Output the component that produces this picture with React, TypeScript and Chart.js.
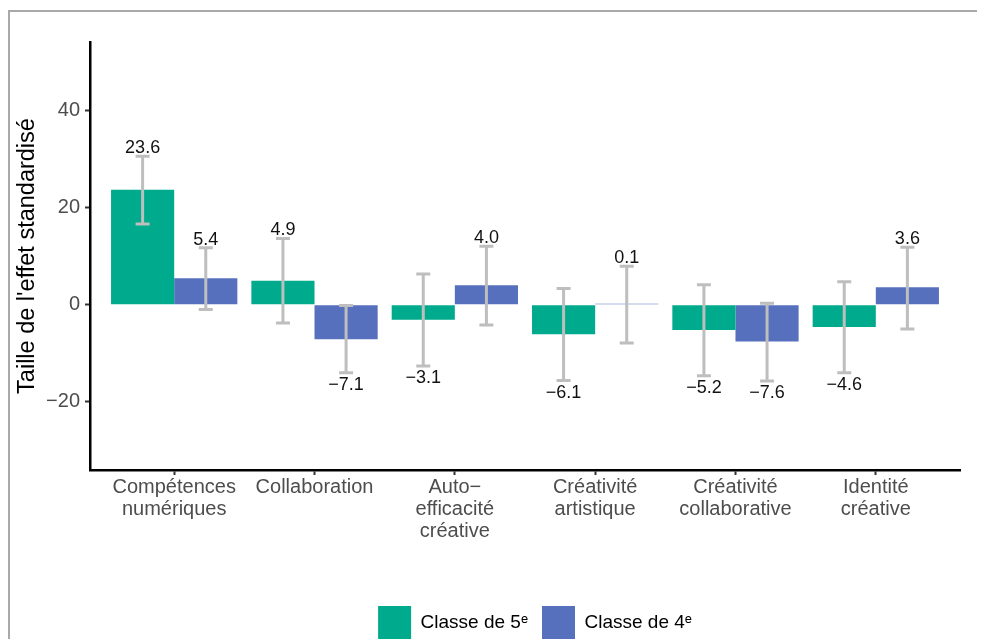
import React, { useEffect, useRef } from 'react';
import { Chart, registerables } from 'chart.js';

Chart.register(...registerables);

// ---- data ----
const categories: string[][] = [
  ['Compétences', 'numériques'],
  ['Collaboration'],
  ['Auto−', 'efficacité', 'créative'],
  ['Créativité', 'artistique'],
  ['Créativité', 'collaborative'],
  ['Identité', 'créative'],
];
const seriesNames = ['Classe de 5ᵉ', 'Classe de 4ᵉ'];
const values5 = [23.6, 4.9, -3.1, -6.1, -5.2, -4.6];
const values4 = [5.4, -7.1, 4.0, 0.1, -7.6, 3.6];
const errLow5 = [16.6, -3.8, -12.6, -15.6, -14.6, -14.0];
const errHigh5 = [30.5, 13.6, 6.3, 3.3, 4.1, 4.7];
const errLow4 = [-1.0, -14.0, -4.2, -7.9, -15.7, -5.0];
const errHigh4 = [11.7, -0.2, 12.0, 7.9, 0.3, 11.8];
const yTicks = [-20, 0, 20, 40];
const yMin = -34;
const yMax = 54;
const yTitle = "Taille de l'effet standardisé";
const colors = ['#00AA8C', '#5670BE'];

const FONT = "'Liberation Sans', Arial, sans-serif";
const fmt = (v: number) => (v < 0 ? '−' + Math.abs(v).toFixed(1) : v.toFixed(1));

const errorBarPlugin = {
  id: 'errorBars',
  afterDatasetsDraw(chart: any) {
    const { ctx } = chart;
    const ys = chart.scales.y;
    const lows = [errLow5, errLow4];
    const highs = [errHigh5, errHigh4];
    const vals = [values5, values4];
    ctx.save();
    chart.data.datasets.forEach((_ds: any, d: number) => {
      const meta = chart.getDatasetMeta(d);
      meta.data.forEach((bar: any, i: number) => {
        const x = bar.x;
        const yl = ys.getPixelForValue(lows[d][i]);
        const yh = ys.getPixelForValue(highs[d][i]);
        ctx.strokeStyle = '#BEBEBE';
        ctx.lineWidth = 3;
        ctx.lineCap = 'butt';
        ctx.beginPath();
        ctx.moveTo(x, yl);
        ctx.lineTo(x, yh);
        ctx.moveTo(x - 7, yl);
        ctx.lineTo(x + 7, yl);
        ctx.moveTo(x - 7, yh);
        ctx.lineTo(x + 7, yh);
        ctx.stroke();
        const v = vals[d][i];
        ctx.fillStyle = '#111111';
        ctx.font = `18px ${FONT}`;
        ctx.textAlign = 'center';
        ctx.textBaseline = 'alphabetic';
        if (v >= 0) ctx.fillText(fmt(v), x, yh - 3);
        else ctx.fillText(fmt(v), x, yl + 17);
      });
    });
    ctx.restore();
  },
};

const legendShiftPlugin = {
  id: 'legendShift',
  afterLayout(chart: any) {
    if (chart.legend) chart.legend.left += 20;
  },
};

export default function App() {
  const ref = useRef<HTMLCanvasElement | null>(null);
  useEffect(() => {
    document.documentElement.style.overflow = 'hidden';
    if (!ref.current) return;
    const xPositions = categories.map((_, i) => i + 1);
    const chart = new Chart(ref.current, {
      type: 'bar',
      data: {
        datasets: [
          {
            label: seriesNames[0],
            data: values5.map((v, i) => ({ x: xPositions[i], y: v })),
            backgroundColor: colors[0],
            borderWidth: 0,
            minBarLength: 1,
          },
          {
            label: seriesNames[1],
            data: values4.map((v, i) => ({ x: xPositions[i], y: v })),
            backgroundColor: colors[1],
            borderWidth: 0,
            minBarLength: 1,
          },
        ],
      },
      options: {
        responsive: false,
        animation: false,
        events: [],
        layout: { padding: { top: 30, right: 25, left: 0, bottom: 0 } },
        datasets: { bar: { categoryPercentage: 0.9, barPercentage: 1.0 } },
        scales: {
          x: {
            type: 'linear',
            min: 0.4,
            max: 6.6,
            offset: false,
            afterBuildTicks: (scale: any) => {
              scale.ticks = xPositions.map((v) => ({ value: v }));
            },
            afterFit: (scale: any) => {
              scale.height = 122;
            },
            grid: {
              display: true,
              offset: false,
              drawOnChartArea: false,
              drawTicks: true,
              tickLength: 5,
              tickWidth: 2,
              tickColor: '#333333',
            },
            border: { display: true, color: '#000000', width: 2.5 },
            ticks: {
              autoSkip: false,
              maxRotation: 0,
              minRotation: 0,
              padding: 1,
              color: '#4D4D4D',
              font: { family: FONT, size: 20, lineHeight: 1.1 },
              callback: (value: any) => categories[Math.round(Number(value)) - 1] ?? '',
            },
          },
          y: {
            type: 'linear',
            min: yMin,
            max: yMax,
            afterBuildTicks: (scale: any) => {
              scale.ticks = yTicks.map((v) => ({ value: v }));
            },
            afterFit: (scale: any) => {
              scale.width = 80;
            },
            grid: {
              display: true,
              drawOnChartArea: false,
              drawTicks: true,
              tickLength: 5,
              tickWidth: 2,
              tickColor: '#333333',
            },
            border: { display: true, color: '#000000', width: 2.5 },
            ticks: {
              padding: 5,
              color: '#4D4D4D',
              font: { family: FONT, size: 20 },
              callback: (value: any) => (Number(value) < 0 ? '−' + Math.abs(Number(value)) : String(value)),
            },
            title: {
              display: true,
              text: yTitle,
              color: '#000000',
              font: { family: FONT, size: 23.5 },
              padding: { top: 3, bottom: 0 },
            },
          },
        },
        plugins: {
          tooltip: { enabled: false },
          legend: {
            display: true,
            position: 'bottom',
            fullSize: false,
            labels: {
              boxWidth: 33,
              boxHeight: 33,
              padding: 14,
              color: '#000000',
              font: { family: FONT, size: 19 },
            },
          },
        },
      },
      plugins: [errorBarPlugin, legendShiftPlugin],
    } as any);
    return () => chart.destroy();
  }, []);

  return (
    <div style={{ paddingTop: 2 }}>
      <div
        style={{
          borderTop: '2px solid #A9A9A9',
          borderLeft: '2px solid #A9A9A9',
          width: 1000,
          height: 637,
          background: '#fff',
        }}
      >
        <canvas ref={ref} width={975} height={637} style={{ display: 'block' }} />
      </div>
    </div>
  );
}
